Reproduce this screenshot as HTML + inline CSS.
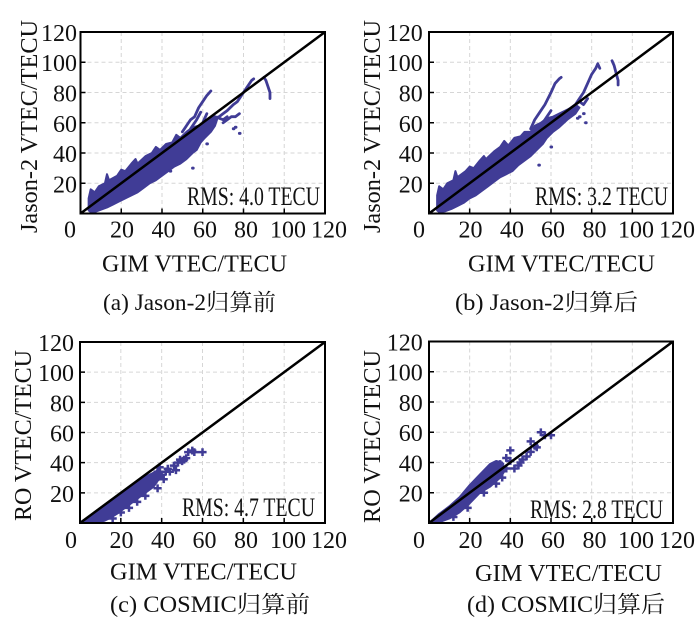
<!DOCTYPE html>
<html>
<head>
<meta charset="utf-8">
<style>
html,body{margin:0;padding:0;background:#fff;}
svg{display:block;}
text{font-family:"Liberation Serif","Noto Serif CJK SC",serif;fill:#111;}
.tk{font-size:24px;}
.rms{font-size:26px;}
.ttl{font-size:24px;}
.cap{font-size:23px;}
.grid{stroke:#d6d6d6;stroke-width:1;stroke-dasharray:4 3;fill:none;}
.band{fill:#403c96;stroke:#403c96;stroke-width:2;vector-effect:non-scaling-stroke;stroke-linejoin:round;}
.str{fill:none;stroke:#403c96;stroke-width:2.8;vector-effect:non-scaling-stroke;stroke-linejoin:round;stroke-linecap:round;}
.dot{fill:none;stroke:#403c96;stroke-width:3;vector-effect:non-scaling-stroke;stroke-linecap:round;}
.crs{fill:none;stroke:#403c96;stroke-width:2.5;vector-effect:non-scaling-stroke;}
.diag{stroke:#000;stroke-width:2.5;}
.frame{fill:none;stroke:#000;stroke-width:2;}
.tick{stroke:#000;stroke-width:1.5;}
</style>
</head>
<body>
<svg width="700" height="628" viewBox="0 0 700 628" xmlns="http://www.w3.org/2000/svg">
<rect width="700" height="628" fill="#fff"/>

<!-- ================= Panel (a) ================= -->
<g>
  <path class="grid" d="M121.25,32V213.5 M162,32V213.5 M202.75,32V213.5 M243.5,32V213.5 M284.25,32V213.5
    M80.5,183.25H325 M80.5,153H325 M80.5,122.75H325 M80.5,92.5H325 M80.5,62.25H325"/>
  <g transform="matrix(2.0375 0 0 -1.5125 80.5 213.5)">
    <polygon class="band" points="4,2 4,10 5,16 7,14 9,18 12,20 13,26 14,22 18,25 20,29 22,28 25,33 27,36 28,33 32,38 35,40 37,44 39,42 42,46 45,47 47,52 49,50 52,54 55,57 58,58 60,60 63,62 65,64 67,62 66,58 64,54 61,50 59,47 57,42 55,40 52,36 49,33 46,31 43,28 40,25 37,22 34,20 31,17 28,14 25,12 22,10 19,8 16,6 13,4 10,2.5 7,1 5,1"/>
    <path class="str" d="M50,54 L52,58 L54,62 L56,64 L58,70 L60,74 L62,78 L64,81
      M54,56 L57,62 L59,67 M60,60 L62,66
      M64,62 L68,64 L70,66 L72,68 L75,72 L77,74 L79,78 L82,84 L84,88 L85,89
      M70,60 L74,64 L76,64 L78,66 M66,64 L70,62 L72,64
      M90,90 L91,88 L92,84 L93,80 L93,76"/>
    <path class="dot" d="M76,57 l0.3,0 M78,53 l0.3,0 M75,56 l0.3,0 M55,30 l0.3,0 M44,28 l0.3,0 M62,46 l0.3,0"/>
  </g>
  <line class="diag" x1="80.5" y1="213.5" x2="325" y2="32"/>
  <path class="tick" d="M80.5,183.25h5 M80.5,153h5 M80.5,122.75h5 M80.5,92.5h5 M80.5,62.25h5
    M121.25,213.5v-5 M162,213.5v-5 M202.75,213.5v-5 M243.5,213.5v-5 M284.25,213.5v-5"/>
  <rect class="frame" x="80.5" y="32" width="244.5" height="181.5"/>
  <g class="tk" text-anchor="end">
    <text x="77" y="41">120</text>
    <text x="77" y="71">100</text>
    <text x="77" y="101.5">80</text>
    <text x="77" y="132">60</text>
    <text x="77" y="162">40</text>
    <text x="77" y="192.5">20</text>
  </g>
  <g class="tk" text-anchor="middle">
    <text x="70" y="237.5">0</text>
    <text x="122" y="237.5">20</text>
    <text x="163.5" y="237.5">40</text>
    <text x="205" y="237.5">60</text>
    <text x="246" y="237.5">80</text>
    <text x="288" y="237.5">100</text>
    <text x="329" y="237.5">120</text>
  </g>
  <text class="ttl" x="102" y="271.5" textLength="185" lengthAdjust="spacingAndGlyphs">GIM VTEC/TECU</text>
  <text class="ttl" transform="translate(37 126.5) rotate(-90)" text-anchor="middle" textLength="213" lengthAdjust="spacingAndGlyphs">Jason-2 VTEC/TECU</text>
  <text class="rms" x="187" y="205" textLength="133" lengthAdjust="spacingAndGlyphs">RMS: 4.0 TECU</text>
  <text class="cap" x="103" y="310" textLength="173" lengthAdjust="spacingAndGlyphs">(a) Jason-2归算前</text>
</g>

<!-- ================= Panel (b) ================= -->
<g>
  <path class="grid" d="M469.67,32V213.5 M510.33,32V213.5 M551,32V213.5 M591.67,32V213.5 M632.33,32V213.5
    M429,183.25H673 M429,153H673 M429,122.75H673 M429,92.5H673 M429,62.25H673"/>
  <g transform="matrix(2.0333 0 0 -1.5125 429 213.5)">
    <polygon class="band" points="4,2 4,12 5,18 7,16 9,20 12,22 13,28 14,24 18,28 20,31 22,30 25,35 27,38 28,36 32,41 35,44 37,48 39,45 42,50 45,51 47,54 50,54 52,58 55,60 58,63 61,64 64,66 67,68 70,70 72,72 74,70 72,66 68,62 64,57 61,54 58,50 56,46 53,42 50,38 47,35 44,32 41,28 38,26 35,24 32,21 29,18 26,15 23,12 20,10 17,7 14,5 11,3 8,1.5 5,1"/>
    <path class="str" d="M50,56 L52,62 L54,66 L57,72 L60,80 L62,86 L64,89 L65,90
      M55,58 L58,64 L60,68
      M68,68 L72,72 L74,76 L76,80 L78,86 L80,92 L82,96 L83,99 L84,96
      M70,70 L74,74 L76,72 L78,76
      M90,101 L91,98 L92,93 L93,88 L93,85"/>
    <path class="dot" d="M74,64 l0.3,0 M77,60 l0.3,0 M76,66 l0.3,0 M73,63 l0.3,0 M54,32 l0.3,0 M60,44 l0.3,0"/>
  </g>
  <line class="diag" x1="429" y1="213.5" x2="673" y2="32"/>
  <path class="tick" d="M429,183.25h5 M429,153h5 M429,122.75h5 M429,92.5h5 M429,62.25h5
    M469.67,213.5v-5 M510.33,213.5v-5 M551,213.5v-5 M591.67,213.5v-5 M632.33,213.5v-5"/>
  <rect class="frame" x="429" y="32" width="244" height="181.5"/>
  <g class="tk" text-anchor="end">
    <text x="422.7" y="41">120</text>
    <text x="422.7" y="71">100</text>
    <text x="422.7" y="101.5">80</text>
    <text x="422.7" y="132">60</text>
    <text x="422.7" y="162">40</text>
    <text x="422.7" y="192.5">20</text>
  </g>
  <g class="tk" text-anchor="middle">
    <text x="419" y="237.5">0</text>
    <text x="470.5" y="237.5">20</text>
    <text x="512" y="237.5">40</text>
    <text x="553" y="237.5">60</text>
    <text x="594.5" y="237.5">80</text>
    <text x="636" y="237.5">100</text>
    <text x="677" y="237.5">120</text>
  </g>
  <text class="ttl" x="468" y="271.5" textLength="187" lengthAdjust="spacingAndGlyphs">GIM VTEC/TECU</text>
  <text class="ttl" transform="translate(380 126.5) rotate(-90)" text-anchor="middle" textLength="213" lengthAdjust="spacingAndGlyphs">Jason-2 VTEC/TECU</text>
  <text class="rms" x="535" y="205" textLength="133" lengthAdjust="spacingAndGlyphs">RMS: 3.2 TECU</text>
  <text class="cap" x="455" y="310" textLength="183" lengthAdjust="spacingAndGlyphs">(b) Jason-2归算后</text>
</g>

<!-- ================= Panel (c) ================= -->
<g>
  <path class="grid" d="M120.83,342V523 M161.67,342V523 M202.5,342V523 M243.33,342V523 M284.17,342V523
    M80,492.83H325 M80,462.67H325 M80,432.5H325 M80,402.33H325 M80,372.17H325"/>
  <g transform="matrix(2.0417 0 0 -1.5083 80 523)">
    <polygon class="band" points="0.5,0.5 5,4.5 10,9.5 15,14.5 20,19.5 25,24 30,29 34,32 37,34 39,36 40,30 38,28 36,24 33,21 30,18 27,15 24,12 21,9 18,6 15,3.5 12,1.5 8,0.5"/>
    <path class="crs" d="M36,34h4M38,31.4v5.2 M38,32h4M40,29.4v5.2 M40,34h4M42,31.4v5.2
      M42,34h4M44,31.4v5.2 M41,36h4M43,33.4v5.2 M44,38h4M46,35.4v5.2
      M46,40h4M48,37.4v5.2 M47,42h4M49,39.4v5.2 M48,41h4M50,38.4v5.2
      M49,42h4M51,39.4v5.2 M50,43h4M52,40.4v5.2 M51,47h4M53,44.4v5.2
      M53,48h4M55,45.4v5.2 M54,47h4M56,44.4v5.2 M58,47h4M60,44.4v5.2
      M45,35h4M47,32.4v5.2 M39,29h4M41,26.4v5.2 M34,27h4M36,24.4v5.2
      M37,37h4M39,34.4v5.2 M36,23h4M38,20.4v5.2 M30,18h4M32,15.4v5.2
      M22,10h4M24,7.4v5.2 M14,3h4M16,0.4v5.2 M26,14h4M28,11.4v5.2 M18,7h4M20,4.4v5.2"/>
  </g>
  <line class="diag" x1="80" y1="523" x2="325" y2="342"/>
  <path class="tick" d="M80,492.83h5 M80,462.67h5 M80,432.5h5 M80,402.33h5 M80,372.17h5
    M120.83,523v-5 M161.67,523v-5 M202.5,523v-5 M243.33,523v-5 M284.17,523v-5"/>
  <rect class="frame" x="80" y="342" width="245" height="181"/>
  <g class="tk" text-anchor="end">
    <text x="74" y="351">120</text>
    <text x="74" y="381">100</text>
    <text x="74" y="411.5">80</text>
    <text x="74" y="441.5">60</text>
    <text x="74" y="471.5">40</text>
    <text x="74" y="502">20</text>
  </g>
  <g class="tk" text-anchor="middle">
    <text x="71" y="548">0</text>
    <text x="121.5" y="548">20</text>
    <text x="163" y="548">40</text>
    <text x="204.5" y="548">60</text>
    <text x="246" y="548">80</text>
    <text x="288" y="548">100</text>
    <text x="329" y="548">120</text>
  </g>
  <text class="ttl" x="110" y="579.5" textLength="187" lengthAdjust="spacingAndGlyphs">GIM VTEC/TECU</text>
  <text class="ttl" transform="translate(31 435.5) rotate(-90)" text-anchor="middle" textLength="171" lengthAdjust="spacingAndGlyphs">RO VTEC/TECU</text>
  <text class="rms" x="182" y="516" textLength="133" lengthAdjust="spacingAndGlyphs">RMS: 4.7 TECU</text>
  <text class="cap" x="110" y="612" textLength="200" lengthAdjust="spacingAndGlyphs">(c) COSMIC归算前</text>
</g>

<!-- ================= Panel (d) ================= -->
<g>
  <path class="grid" d="M469.67,341.5V523 M510.33,341.5V523 M551,341.5V523 M591.67,341.5V523 M632.33,341.5V523
    M429,492.75H673 M429,462.5H673 M429,432.25H673 M429,402H673 M429,371.75H673"/>
  <g transform="matrix(2.0333 0 0 -1.5125 429 523)">
    <polygon class="band" points="0.5,0.5 5,6 10,11 15,17 20,25 25,32 30,39 33,41 36,40 37,34 35,30 30,24 25,20 20,13 15,7 10,3 6,1 2,0.3"/>
    <path class="crs" d="M38,48h4M40,45.4v5.2 M36,43h4M38,40.4v5.2 M48,47h4M50,44.4v5.2
      M48,54h4M50,51.4v5.2 M53,60h4M55,57.4v5.2 M58,58h4M60,55.4v5.2
      M43,40h4M45,37.4v5.2 M34,30h4M36,27.4v5.2 M31,26h4M33,23.4v5.2
      M40,36h4M42,33.4v5.2 M42,38h4M44,35.4v5.2 M46,44h4M48,41.4v5.2
      M50,51h4M52,48.4v5.2 M55,58h4M57,55.4v5.2 M36,36h4M38,33.4v5.2
      M33,39h4M35,36.4v5.2 M38,41h4M40,38.4v5.2 M25,20h4M27,17.4v5.2
      M17,10h4M19,7.4v5.2 M10,4h4M12,1.4v5.2 M44,42h4M46,39.4v5.2 M51,50h4M53,47.4v5.2"/>
  </g>
  <line class="diag" x1="429" y1="523" x2="673" y2="341.5"/>
  <path class="tick" d="M429,492.75h5 M429,462.5h5 M429,432.25h5 M429,402h5 M429,371.75h5
    M469.67,523v-5 M510.33,523v-5 M551,523v-5 M591.67,523v-5 M632.33,523v-5"/>
  <rect class="frame" x="429" y="341.5" width="244" height="181.5"/>
  <g class="tk" text-anchor="end">
    <text x="422.7" y="350.5">120</text>
    <text x="422.7" y="380.5">100</text>
    <text x="422.7" y="411">80</text>
    <text x="422.7" y="441">60</text>
    <text x="422.7" y="471.5">40</text>
    <text x="422.7" y="501.5">20</text>
  </g>
  <g class="tk" text-anchor="middle">
    <text x="419" y="548">0</text>
    <text x="470.5" y="548">20</text>
    <text x="512" y="548">40</text>
    <text x="553" y="548">60</text>
    <text x="594.5" y="548">80</text>
    <text x="636" y="548">100</text>
    <text x="677" y="548">120</text>
  </g>
  <text class="ttl" x="475" y="581" textLength="187" lengthAdjust="spacingAndGlyphs">GIM VTEC/TECU</text>
  <text class="ttl" transform="translate(380 436.5) rotate(-90)" text-anchor="middle" textLength="173" lengthAdjust="spacingAndGlyphs">RO VTEC/TECU</text>
  <text class="rms" x="530" y="518" textLength="133" lengthAdjust="spacingAndGlyphs">RMS: 2.8 TECU</text>
  <text class="cap" x="467" y="612" textLength="198" lengthAdjust="spacingAndGlyphs">(d) COSMIC归算后</text>
</g>
</svg>
</body>
</html>
